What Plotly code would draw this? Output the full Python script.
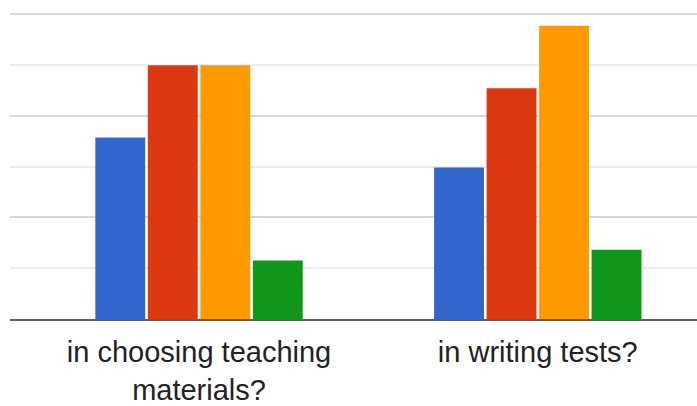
import plotly.graph_objects as go

categories = ["in choosing teaching<br>materials?", "in writing tests?"]
series_names = ["Series 1", "Series 2", "Series 3", "Series 4"]
blue_vals = [35.7, 29.8]
red_vals = [49.9, 45.4]
orange_vals = [49.9, 57.7]
green_vals = [11.5, 13.6]
colors = ["#3366cc", "#dc3912", "#ff9900", "#109618"]

fig = go.Figure()
for name, vals, col in zip(series_names, [blue_vals, red_vals, orange_vals, green_vals], colors):
    fig.add_trace(go.Bar(x=categories, y=vals, name=name, marker=dict(color=col, line=dict(width=0))))

fig.update_layout(
    width=697, height=406,
    margin=dict(l=10, r=0, t=0, b=87, autoexpand=False),
    paper_bgcolor="white", plot_bgcolor="white",
    barmode="group", bargap=0.38, bargroupgap=0.05,
    showlegend=False,
    font=dict(family="Liberation Sans, Arial, sans-serif", size=29, color="#222222"),
)
fig.update_xaxes(
    range=[-0.558, 1.470], showgrid=False, zeroline=False, automargin=False,
    showline=True, linecolor="#5f5f5f", linewidth=2,
    ticks="", ticklabelstandoff=6,
    tickfont=dict(size=29, color="#222222"),
)
fig.update_yaxes(
    range=[0, 62.76], showticklabels=False, zeroline=False, automargin=False,
    dtick=20, tick0=0, gridcolor="#d6d6d6", gridwidth=2,
    minor=dict(dtick=10, tick0=0, showgrid=True, gridcolor="#ececec", gridwidth=2),
)
fig.write_html(
    "out.html",
    config={"displayModeBar": False},
    post_script="document.body.style.margin='0px';document.body.style.overflow='hidden';",
)
